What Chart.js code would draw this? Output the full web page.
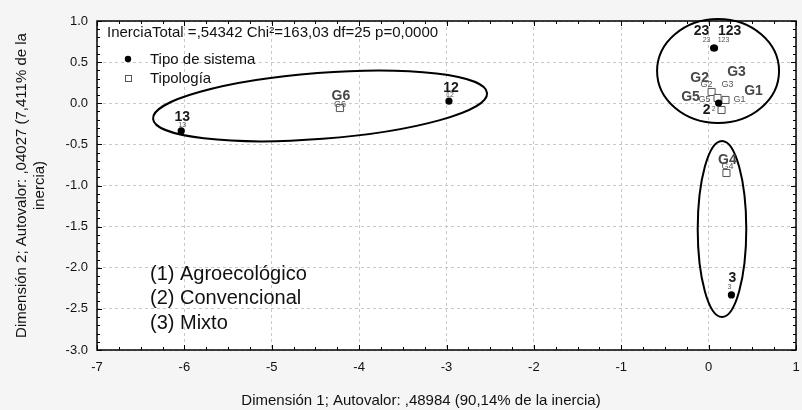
<!DOCTYPE html>
<html><head><meta charset="utf-8">
<script src="https://cdn.jsdelivr.net/npm/chart.js@4.4.0/dist/chart.umd.min.js"></script>
<style>html,body{margin:0;padding:0;background:#f5f5f5;overflow:hidden;}</style>
</head><body>
<canvas id="c" width="802" height="410"></canvas>
<script>
// ---- data ----
const systemLabels = ['13', '12', '23', '123', '2', '3'];
const systemX = [-6.036, -2.972, 0.057, 0.068, 0.114, 0.261];
const systemY = [-0.337, 0.027, 0.672, 0.672, 0.003, -2.331];
const typeLabels = ['G1', 'G2', 'G3', 'G4', 'G5', 'G6'];
const typeX = [0.193, 0.034, 0.102, 0.204, 0.148, -4.220];
const typeY = [0.040, 0.137, 0.064, -0.848, -0.082, -0.058];
const xTickValues = [-7, -6, -5, -4, -3, -2, -1, 0, 1];
const yTickValues = [1.0, 0.5, 0.0, -0.5, -1.0, -1.5, -2.0, -2.5, -3.0];
// ellipses in data units (centre, radii) and rotation in degrees
const ellipseCX = [-4.447, 0.108, 0.153];
const ellipseCY = [-0.033, 0.392, -1.529];
const ellipseRX = [1.917, 0.698, 0.278];
const ellipseRY = [0.401, 0.632, 1.070];
const ellipseRot = [-4.41, 0, 0];
const seriesNames = ['Tipo de sistema', 'Tipología'];
const noteLines = ['(1) Agroecológico', '(2) Convencional', '(3) Mixto'];
const statsText = 'InerciaTotal =,54342 Chi²=163,03 df=25 p=0,0000';
const xTitle = 'Dimensión 1; Autovalor: ,48984 (90,14% de la inercia)';
const yTitle = ['Dimensión 2; Autovalor: ,04027 (7,411% de la', 'inercia)'];

// ---- label placement (pixel offsets: [big label], [small label]) ----
const labelOffsets = {
  '13': [[1, -14], [1, -6]], '12': [[2, -13], [1, -6]],
  '23': [[-12, -17], [-7, -8]], '123': [[15, -17], [9, -8]],
  '2': [[-12, 7], [-5, 6]], '3': [[1, -17], [-2, -8]],
  'G1': [[28, -9], [14, 0]], 'G2': [[-12, -14], [-5, -7]],
  'G3': [[19, -26], [10, -13]], 'G4': [[1, -13], [1, -6]],
  'G5': [[-31, -13], [-17, -10]], 'G6': [[1, -12], [0, -4]]
};

const FONT = "'Liberation Sans', Arial, sans-serif";
const L = {left: 97, top: 21, right: 800, bottom: 350, W: 802, H: 410};

const decor = {
  id: 'decor',
  beforeDraw(chart) {
    const {ctx, chartArea: a} = chart;
    ctx.save();
    ctx.fillStyle = '#f5f5f5';
    ctx.fillRect(0, 0, chart.width, chart.height);
    ctx.fillStyle = '#ffffff';
    ctx.fillRect(a.left, a.top, a.right - a.left, a.bottom - a.top);
    ctx.restore();
  },
  afterDatasetsDraw(chart) {
    const {ctx, chartArea: a, scales: {x: xs, y: ys}} = chart;
    ctx.save();
    // frame
    ctx.strokeStyle = '#000'; ctx.lineWidth = 1.5;
    ctx.strokeRect(a.left, a.top, a.right - a.left, a.bottom - a.top);
    // inward ticks on all four sides
    ctx.lineWidth = 1;
    ctx.beginPath();
    for (let v = -7; v <= 1.0001; v += 0.25) {
      const px = Math.round(xs.getPixelForValue(v)) + 0.5;
      const major = Math.abs(v - Math.round(v)) < 1e-6;
      const len = major ? 5 : 3;
      ctx.moveTo(px, a.bottom); ctx.lineTo(px, a.bottom - len);
      ctx.moveTo(px, a.top); ctx.lineTo(px, a.top + len);
    }
    for (let k = -30; k <= 10; k++) {
      const v = k / 10;
      const py = Math.round(ys.getPixelForValue(v)) + 0.5;
      const major = k % 5 === 0;
      const len = major ? 5 : 3;
      ctx.moveTo(a.left, py); ctx.lineTo(a.left + len, py);
      ctx.moveTo(a.right, py); ctx.lineTo(a.right - len, py);
    }
    ctx.stroke();
    // ellipses
    ctx.lineWidth = 2; ctx.strokeStyle = '#000';
    for (let i = 0; i < ellipseCX.length; i++) {
      const cx = xs.getPixelForValue(ellipseCX[i]);
      const cy = ys.getPixelForValue(ellipseCY[i]);
      const rx = Math.abs(xs.getPixelForValue(ellipseCX[i] + ellipseRX[i]) - cx);
      const ry = Math.abs(ys.getPixelForValue(ellipseCY[i] + ellipseRY[i]) - cy);
      ctx.beginPath();
      ctx.ellipse(cx, cy, rx, ry, ellipseRot[i] * Math.PI / 180, 0, Math.PI * 2);
      ctx.stroke();
    }
    // point labels
    ctx.textAlign = 'center'; ctx.textBaseline = 'middle';
    chart.data.datasets.forEach((ds, di) => {
      const meta = chart.getDatasetMeta(di);
      meta.data.forEach((el, j) => {
        const name = ds.pointNames[j];
        const off = labelOffsets[name] || [[0, -14], [0, -6]];
        const isG = name[0] === 'G';
        ctx.font = 'bold 14px ' + FONT;
        ctx.fillStyle = isG ? '#474747' : '#1a1a1a';
        ctx.fillText(name, el.x + off[0][0], el.y + off[0][1]);
        ctx.font = (isG ? '9px ' : '7px ') + FONT;
        ctx.fillStyle = '#555';
        ctx.fillText(name, el.x + off[1][0], el.y + off[1][1]);
      });
    });
    // x axis title (centred where the original places it)
    ctx.fillStyle = '#111';
    ctx.font = '15px ' + FONT;
    ctx.fillText(xTitle, 421, 401);
    // statistics text
    ctx.textAlign = 'left';
    ctx.fillText(statsText, a.left + 10, a.top + 12);
    // legend
    const lx = a.left + 31;
    ctx.beginPath(); ctx.arc(lx, a.top + 38, 3.2, 0, Math.PI * 2);
    ctx.fillStyle = '#000'; ctx.fill();
    ctx.fillStyle = '#fff'; ctx.fillRect(lx - 3, a.top + 54, 6, 6);
    ctx.strokeStyle = '#555'; ctx.lineWidth = 1;
    ctx.strokeRect(lx - 3 + 0.5, a.top + 54 + 0.5, 6, 6);
    ctx.fillStyle = '#111';
    ctx.fillText(chart.data.datasets[0].label, lx + 22, a.top + 39);
    ctx.fillText(chart.data.datasets[1].label, lx + 22, a.top + 58);
    // notes
    ctx.font = '20px ' + FONT;
    noteLines.forEach((t, i) => ctx.fillText(t, a.left + 53, a.top + 253 + i * 24.5));
    ctx.restore();
  }
};

new Chart(document.getElementById('c'), {
  type: 'scatter',
  data: {
    datasets: [
      {
        label: seriesNames[0], pointNames: systemLabels,
        data: systemX.map((x, i) => ({x, y: systemY[i]})),
        pointStyle: 'circle', pointRadius: 3.6, pointHoverRadius: 3.6,
        backgroundColor: '#000', borderColor: '#000', borderWidth: 0
      },
      {
        label: seriesNames[1], pointNames: typeLabels,
        data: typeX.map((x, i) => ({x, y: typeY[i]})),
        pointStyle: 'rect', pointRadius: 5, pointHoverRadius: 5,
        backgroundColor: '#fff', borderColor: '#555', borderWidth: 1
      }
    ]
  },
  options: {
    responsive: false, animation: false, devicePixelRatio: 1,
    layout: {padding: {left: 0, top: L.top, right: L.W - L.right, bottom: 0}},
    plugins: {legend: {display: false}, tooltip: {enabled: false}},
    scales: {
      x: {
        type: 'linear', min: xTickValues[0], max: xTickValues[xTickValues.length - 1],
        afterBuildTicks: s => { s.ticks = xTickValues.map(v => ({value: v})); },
        afterFit: s => { s.height = L.H - L.bottom; s.paddingLeft = 0; s.paddingRight = 0; },
        ticks: {font: {family: FONT, size: 13}, color: '#111', padding: 10, maxRotation: 0, autoSkip: false},
        grid: {color: '#c8c8c8', lineWidth: 1, drawTicks: false},
        border: {display: false, dash: [3, 3]},
        title: {display: false, text: xTitle}
      },
      y: {
        type: 'linear', min: yTickValues[yTickValues.length - 1], max: yTickValues[0],
        afterBuildTicks: s => { s.ticks = yTickValues.map(v => ({value: v})); },
        afterFit: s => { s.width = L.left; s.paddingTop = 0; s.paddingBottom = 0; },
        ticks: {font: {family: FONT, size: 13}, color: '#111', padding: 9, callback: v => v.toFixed(1)},
        grid: {color: '#c8c8c8', lineWidth: 1, drawTicks: false},
        border: {display: false, dash: [3, 3]},
        title: {display: true, text: yTitle, font: {family: FONT, size: 15}, color: '#111', padding: {top: 13, bottom: 0}}
      }
    }
  },
  plugins: [decor]
});
</script>
</body></html>
